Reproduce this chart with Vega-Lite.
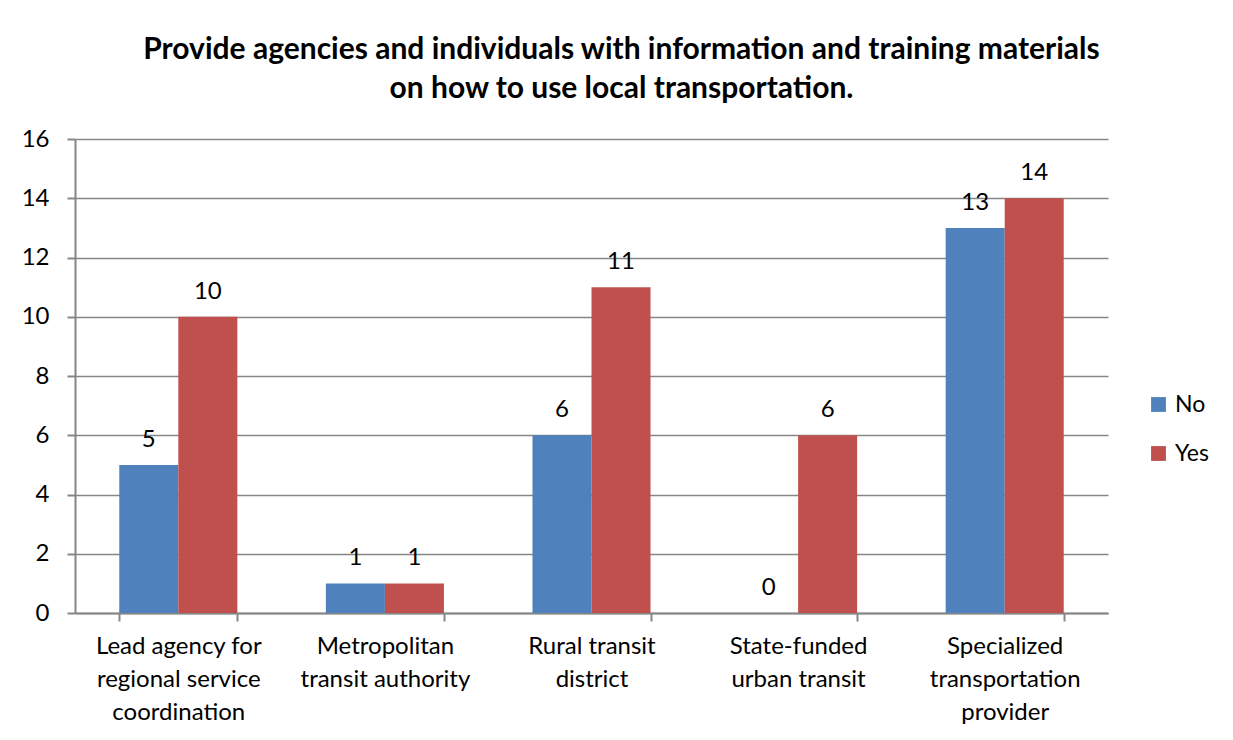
{
  "$schema": "https://vega.github.io/schema/vega-lite/v6.json",
  "autosize": {"type": "none"},
  "width": 1033,
  "height": 474,
  "padding": {"left": 75, "top": 139, "right": 125, "bottom": 127},
  "background": "white",
  "title": {
    "text": ["Provide agencies and individuals with information and training materials", "on how to use local transportation."],
    "font": "Lato",
    "fontSize": 30,
    "fontWeight": "bold",
    "color": "#000000",
    "lineHeight": 39,
    "anchor": "middle",
    "dx": 30,
    "offset": 23
  },
  "data": {
    "values": [
      {"category": "Lead agency for regional service coordination", "response": "No", "count": 5},
      {"category": "Lead agency for regional service coordination", "response": "Yes", "count": 10},
      {"category": "Metropolitan transit authority", "response": "No", "count": 1},
      {"category": "Metropolitan transit authority", "response": "Yes", "count": 1},
      {"category": "Rural transit district", "response": "No", "count": 6},
      {"category": "Rural transit district", "response": "Yes", "count": 11},
      {"category": "State-funded urban transit", "response": "No", "count": 0},
      {"category": "State-funded urban transit", "response": "Yes", "count": 6},
      {"category": "Specialized transportation provider", "response": "No", "count": 13},
      {"category": "Specialized transportation provider", "response": "Yes", "count": 14}
    ]
  },
  "encoding": {
    "x": {
      "field": "category",
      "type": "nominal",
      "sort": null,
      "scale": {"paddingInner": 0.4286, "paddingOuter": 0.2143},
      "axis": {
        "title": null,
        "labelAngle": 0,
        "labelFont": "Lato",
        "labelFontSize": 24,
        "labelColor": "#000000",
        "labelLineHeight": 33,
        "labelPadding": 13,
        "tickBand": "extent",
        "tickSize": 8,
        "tickColor": "#868686",
        "domainColor": "#868686",
        "domainWidth": 2,
        "tickWidth": 2,
        "labelExpr": "datum.value == 'Lead agency for regional service coordination' ? ['Lead agency for','regional service','coordination'] : datum.value == 'Metropolitan transit authority' ? ['Metropolitan','transit authority'] : datum.value == 'Rural transit district' ? ['Rural transit','district'] : datum.value == 'State-funded urban transit' ? ['State-funded','urban transit'] : datum.value == 'Specialized transportation provider' ? ['Specialized','transportation','provider'] : ''"
      }
    },
    "xOffset": {"field": "response", "type": "nominal", "sort": ["No", "Yes"]},
    "y": {
      "field": "count",
      "type": "quantitative",
      "scale": {"domain": [0, 16]},
      "axis": {
        "title": null,
        "values": [0, 2, 4, 6, 8, 10, 12, 14, 16],
        "labelFont": "Lato",
        "labelFontSize": 24,
        "labelColor": "#000000",
        "labelPadding": 18,
        "tickSize": 8,
        "tickColor": "#868686",
        "tickWidth": 2,
        "domainColor": "#868686",
        "domainWidth": 2,
        "gridColor": "#868686",
        "gridWidth": 1.5
      }
    }
  },
  "layer": [
    {
      "mark": {"type": "bar"},
      "encoding": {
        "color": {
          "field": "response",
          "type": "nominal",
          "scale": {"domain": ["No", "Yes"], "range": ["#4F81BD", "#C0504D"]},
          "legend": {
            "title": null,
            "orient": "none",
            "legendX": 1072,
            "legendY": 254,
            "symbolType": "square",
            "symbolSize": 220,
            "labelFont": "Lato",
            "labelFontSize": 23,
            "labelColor": "#000000",
            "rowPadding": 25,
            "labelOffset": 5
          }
        }
      }
    },
    {
      "mark": {"type": "text", "baseline": "bottom", "dy": -13, "font": "Lato", "fontSize": 24, "color": "#000000"},
      "encoding": {
        "text": {"field": "count", "type": "quantitative"}
      }
    }
  ],
  "config": {
    "view": {"stroke": null}
  }
}
